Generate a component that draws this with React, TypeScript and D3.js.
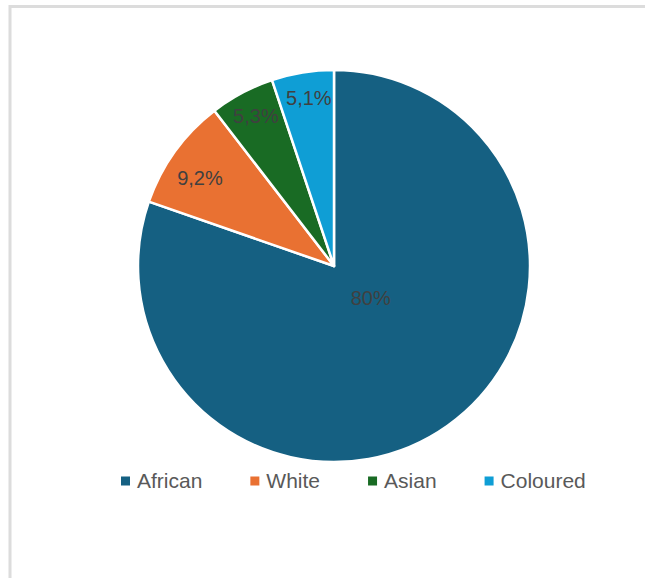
import React, { useEffect, useRef } from "react";
import * as d3 from "d3";

const categories = ["African", "White", "Asian", "Coloured"];
const values = [80, 9.2, 5.3, 5.1];
const valueLabels = ["80%", "9,2%", "5,3%", "5,1%"];
const colors = ["#156082", "#E97132", "#196B24", "#0F9ED5"];

const W = 645;
const H = 578;
const CX = 334;
const CY = 266;
const R = 196;

export default function App() {
  const ref = useRef<SVGSVGElement>(null);

  useEffect(() => {
    const svg = d3.select(ref.current);
    svg.selectAll("*").remove();

    svg
      .append("rect")
      .attr("x", 10)
      .attr("y", 6.5)
      .attr("width", W + 20)
      .attr("height", H + 20)
      .attr("fill", "#fff")
      .attr("stroke", "#dcdcdc")
      .attr("stroke-width", 3);

    const data = categories.map((c, i) => ({ c, v: values[i], label: valueLabels[i], color: colors[i] }));
    const pie = d3
      .pie<any>()
      .sort(null)
      .value((d) => d.v);
    const arcs = pie(data);
    const arc = d3.arc<any>().innerRadius(0).outerRadius(R);

    const g = svg.append("g").attr("transform", `translate(${CX},${CY})`);
    g.selectAll("path.slice")
      .data(arcs)
      .join("path")
      .attr("class", "slice")
      .attr("d", arc)
      .attr("fill", (d) => d.data.color)
      .attr("stroke", "#fff")
      .attr("stroke-width", 2.5)
      .attr("stroke-linejoin", "round");

    g.selectAll("text.lbl")
      .data(arcs)
      .join("text")
      .attr("class", "lbl")
      .attr("transform", (d) => {
        const frac = (d.endAngle - d.startAngle) / (2 * Math.PI);
        const mid = (d.startAngle + d.endAngle) / 2;
        // Excel-like best-fit: big slice label near centre, small ones near rim,
        // with the label nudged clockwise toward the slice's end as slices shrink
        const a = frac > 0.5 ? mid - 0.23 : mid + (0.06 - frac) * 1.4;
        const r = frac > 0.5 ? R * 0.25 : R * (0.82 + (0.09 - frac) * 1.2);
        return `translate(${Math.sin(a) * r},${-Math.cos(a) * r})`;
      })
      .attr("text-anchor", "middle")
      .attr("dy", "0.35em")
      .attr("font-family", "Liberation Sans, Arial, sans-serif")
      .attr("font-size", 20)
      .attr("fill", "#404040")
      .text((d) => d.data.label);

    // legend
    const lg = svg.append("g").attr("transform", `translate(121,481)`);
    let x = 0;
    data.forEach((d) => {
      const item = lg.append("g").attr("transform", `translate(${x},0)`);
      item
        .append("rect")
        .attr("x", 0)
        .attr("y", -4.5)
        .attr("width", 9)
        .attr("height", 9)
        .attr("fill", d.color);
      const t = item
        .append("text")
        .attr("x", 16)
        .attr("dy", "0.35em")
        .attr("font-family", "Liberation Sans, Arial, sans-serif")
        .attr("font-size", 21)
        .attr("fill", "#595959")
        .text(d.c);
      const w = (t.node() as SVGTextElement).getComputedTextLength();
      x += 16 + w + 48;
    });
  }, []);

  return (
    <svg
      ref={ref}
      width={W}
      height={H}
      style={{ position: "absolute", left: 0, top: 0, background: "#fff" }}
    />
  );
}
